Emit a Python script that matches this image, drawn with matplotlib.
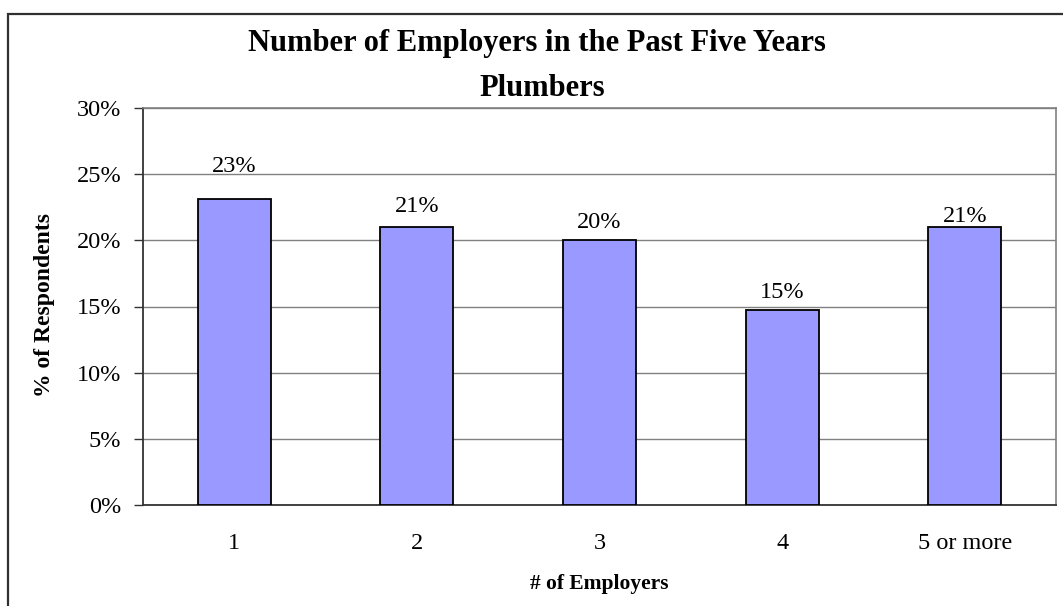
import matplotlib
matplotlib.use("Agg")
import matplotlib.pyplot as plt
from matplotlib.patches import Rectangle
from matplotlib.ticker import FuncFormatter

# Share of plumbers by number of employers over the past five years
categories = ["1", "2", "3", "4", "5 or more"]
shares = [23.1, 21.0, 20.0, 14.7, 21.0]
y_ticks = [0, 5, 10, 15, 20, 25, 30]

# vertical gap (pixels) between each bar top and its value label baseline
label_gaps_px = [27, 15.5, 12.7, 12.7, 5]

W, H, DPI = 1063, 606, 100
plt.rcParams["font.family"] = ["Liberation Serif", "DejaVu Serif"]

fig = plt.figure(figsize=(W / DPI, H / DPI), dpi=DPI)
fig.patch.set_facecolor("white")

# outer chart border (runs off the right and bottom edges)
fig.patches.append(Rectangle((8 / W, -0.2), 1.3, 1.2 - 14 / H,
                             transform=fig.transFigure, fill=False,
                             edgecolor="#303030", linewidth=1.6, zorder=0))

left, right, top, bottom = 143, 1056, 108, 505
ax = fig.add_axes([left / W, (H - bottom) / H, (right - left) / W, (bottom - top) / H])

x = range(len(categories))
ax.bar(x, shares, width=0.4, color="#9999FF", edgecolor="black", linewidth=1.3, zorder=3)

for xi, v, gap in zip(x, shares, label_gaps_px):
    ax.annotate(f"{v:.0f}%", (xi, v), xytext=(0, gap * 72 / DPI), textcoords="offset points",
                ha="center", va="baseline", fontsize=17.5, zorder=4)

ax.set_xlim(-0.5, len(categories) - 0.5)
ax.set_ylim(0, 30)
ax.set_yticks(y_ticks)
ax.yaxis.set_major_formatter(FuncFormatter(lambda v, p: f"{v:.0f}%"))
ax.set_xticks(list(x))
ax.set_xticklabels(categories)

ax.grid(axis="y", color="#808080", linewidth=1.0, zorder=0)
ax.set_axisbelow(True)

for side in ("top", "right"):
    ax.spines[side].set_color("#808080")
    ax.spines[side].set_linewidth(1.2)
for side in ("left", "bottom"):
    ax.spines[side].set_color("#333333")
    ax.spines[side].set_linewidth(1.3)

ax.tick_params(axis="y", direction="out", length=6.5, width=1.0, color="#333333",
               pad=9, labelsize=17.5)
ax.tick_params(axis="x", length=0, pad=20, labelsize=17.5)

fig.text(537 / W, 1 - 43 / H, "Number of Employers in the Past Five Years",
         ha="center", va="center", fontsize=22, fontweight="bold")
fig.text(542 / W, 1 - 88 / H, "Plumbers",
         ha="center", va="center", fontsize=22, fontweight="bold")

fig.text(45 / W, 1 - 305 / H, "% of Respondents", rotation=90,
         ha="center", va="center", fontsize=17, fontweight="bold")
fig.text(599 / W, 1 - 584 / H, "# of Employers",
         ha="center", va="center", fontsize=15.5, fontweight="bold")

fig.savefig("out.png", dpi=DPI, facecolor="white")
